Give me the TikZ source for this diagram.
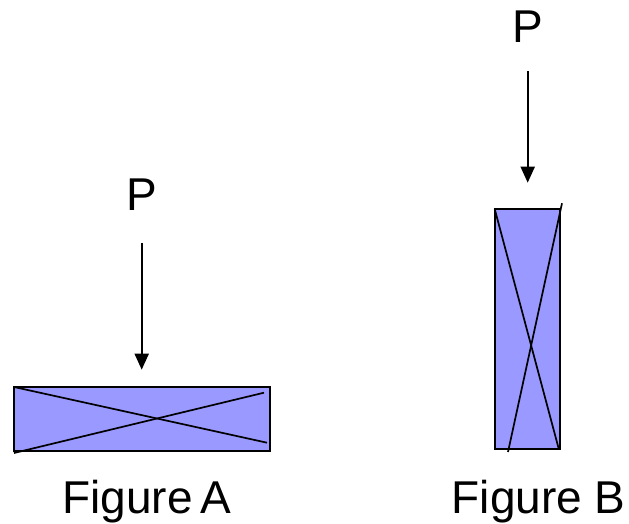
\documentclass[tikz,border=0pt]{standalone}
\usepackage{fontspec}
\setmainfont{Liberation Sans}
\usetikzlibrary{arrows.meta}

\begin{document}
\begin{tikzpicture}[
    x=1pt, y=-1pt,
    beam/.style={draw=black, line width=2.2pt, fill=beamfill, inner sep=0pt, outer sep=0pt},
    cross/.style={line width=1.7pt},
    load/.style={-{Triangle[length=16pt, width=14pt]}, line width=2pt},
    lbl/.style={inner sep=0pt, anchor=base, font=\fontsize{46}{50}\selectfont},
]
    \definecolor{beamfill}{HTML}{9999FF}
    \useasboundingbox (0,0) rectangle (629,524);

    % Figure A: liggende balk
    \node[beam, minimum width=256pt, minimum height=64pt] (beamA) at (142, 418.7) {};
    \draw[cross] (14, 387) -- (267, 442.7);
    \draw[cross] (14, 453) -- (264, 392.7);
    \node[lbl] (PA) at (141.7, 210) {P};
    \draw[load, shorten <=33pt, shorten >=17pt] (PA.base) -- (PA.base |- beamA.north);
    \node[lbl] (capA) at (146.7, 513.3) {Figure\,A};

    % Figure B: staande balk
    \node[beam, minimum width=64.7pt, minimum height=240pt] (beamB) at (527.7, 328.7) {};
    \draw[cross] (494.7, 209) -- (558.7, 448.7);
    \draw[cross] (562, 203.3) -- (508, 452);
    \node[lbl] (PB) at (527.7, 43) {P};
    \draw[load, shorten <=28pt, shorten >=26pt] (PB.base) -- (PB.base |- beamB.north);
    \node[lbl] (capB) at (538.8, 513.3) {Figure B};
\end{tikzpicture}
\end{document}
